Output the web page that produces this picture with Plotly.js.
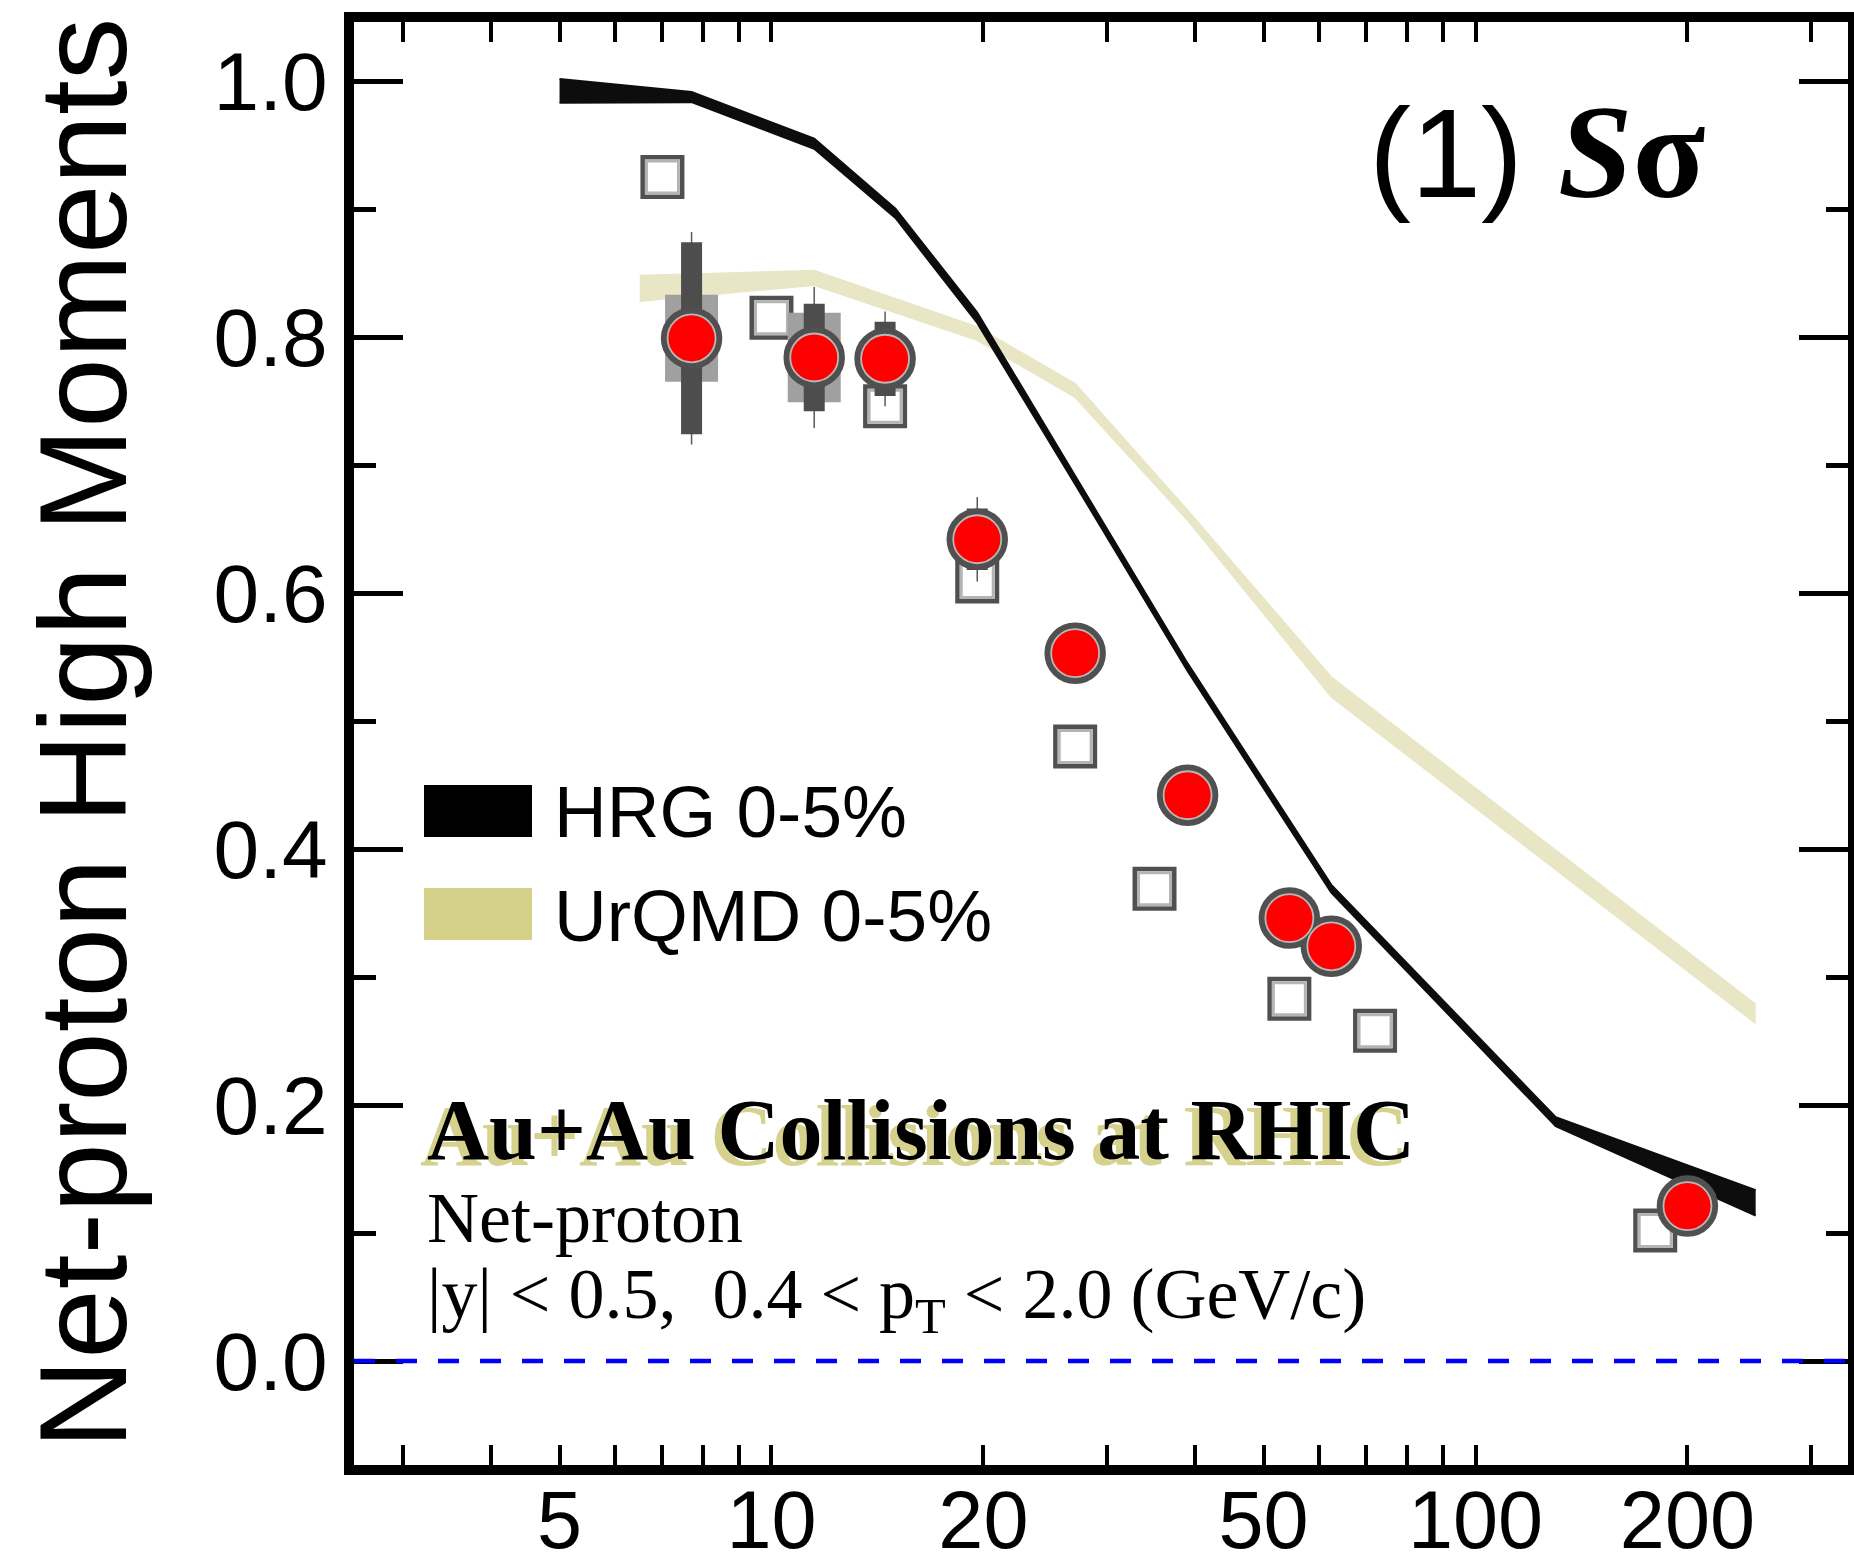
<!DOCTYPE html>
<html>
<head>
<meta charset="utf-8">
<script src="https://cdn.plot.ly/plotly-3.0.1.min.js"></script>
<style>
  html, body { margin: 0; padding: 0; background: #ffffff; }
  #chart { width: 1854px; height: 1565px; }
</style>
</head>
<body>
<div id="chart"></div>
<script>
// Collision energies (GeV) and measured S*sigma for net-protons, 0-5% central Au+Au
const starEnergy = [7.7, 11.5, 14.5, 19.6, 27, 39, 54.4, 62.4, 200];
const starSSigma = [0.799, 0.784, 0.783, 0.642, 0.553, 0.442, 0.346, 0.324, 0.121];
const starStatErr = [0.075, 0.042, 0.029, 0.024, 0.010, 0.008, 0.006, 0.006, 0.003];
const starTotErr = [0.083, 0.055, 0.037, 0.033, 0.014, 0.011, 0.009, 0.009, 0.004];
const starSysErr = [0.034, 0.035, 0.010, 0.010, 0.008, 0.006, 0.005, 0.005, 0.003];

// Open-square points
const sqEnergy = [7.0, 10.0, 14.5, 19.6, 27, 35, 54.4, 72, 180];
const sqSSigma = [0.925, 0.815, 0.746, 0.609, 0.480, 0.369, 0.283, 0.258, 0.102];

// HRG 0-5% band (upper / lower edges)
const hrgEnergy = [5, 7.7, 11.5, 15, 19.6, 27, 39, 62.4, 130, 250];
const hrgUpper = [1.0015, 0.9915, 0.955, 0.9003, 0.819, 0.691, 0.545, 0.372, 0.1905, 0.1335];
const hrgLower = [0.983, 0.9835, 0.947, 0.893, 0.811, 0.685, 0.539, 0.366, 0.1835, 0.1137];

// UrQMD 0-5% band (upper / lower edges)
const urqmdEnergy = [6.5, 11.5, 19.6, 27, 39, 62.4, 250];
const urqmdUpper = [0.848, 0.852, 0.8078, 0.7637, 0.6646, 0.5344, 0.2787];
const urqmdLower = [0.828, 0.8404, 0.7974, 0.7528, 0.6568, 0.5188, 0.2637];

// Axis ticks
const xLabelVals = [5, 10, 20, 50, 100, 200];
const xLabelText = ['5', '10', '20', '50', '100', '200'];
const xMinorVals = [3, 4, 6, 7, 8, 9, 30, 40, 60, 70, 80, 90, 300];
const xLongVals = [10, 100];
const yMajorVals = [0, 0.2, 0.4, 0.6, 0.8, 1.0];
const yMinorVals = [0.1, 0.3, 0.5, 0.7, 0.9];

const SANS = 'Liberation Sans, Arial, Helvetica, sans-serif';
const SERIF = 'Liberation Serif, Times New Roman, Times, serif';

// Plot-area geometry in page pixels, used to place texts and legend swatches
const W = 1854, H = 1565;
const PL = 354, PR = 1848, PT = 22, PB = 1465;
const fx = px => (px - PL) / (PR - PL);
const fy = py => (PB - py) / (PB - PT);

const xRange = [0.4070, 2.5291];
const yRange = [-0.08125, 1.0461];

const traces = [];

// UrQMD band
traces.push({x: urqmdEnergy, y: urqmdLower, mode: 'lines', line: {color: '#e8e6c4', width: 1.5}, hoverinfo: 'skip'});
traces.push({x: urqmdEnergy, y: urqmdUpper, mode: 'lines', fill: 'tonexty', fillcolor: '#e8e6c4', line: {color: '#e8e6c4', width: 1.5}, hoverinfo: 'skip'});

// HRG band
traces.push({x: hrgEnergy, y: hrgLower, mode: 'lines', line: {color: '#0d0d0d', width: 2}, hoverinfo: 'skip'});
traces.push({x: hrgEnergy, y: hrgUpper, mode: 'lines', fill: 'tonexty', fillcolor: '#0d0d0d', line: {color: '#0d0d0d', width: 2}, hoverinfo: 'skip'});

// Open squares (two layers give the dark border with a light inner rim)
traces.push({x: sqEnergy, y: sqSSigma, mode: 'markers', marker: {symbol: 'square', size: 39.5, color: '#ffffff', line: {color: '#505050', width: 4.5}}, hoverinfo: 'skip'});
traces.push({x: sqEnergy, y: sqSSigma, mode: 'markers', marker: {symbol: 'square', size: 32, color: '#ffffff', line: {color: '#b4b4b4', width: 3}}, hoverinfo: 'skip'});

// Systematic boxes, total error lines and statistical bars
const hidden = {size: 1, color: 'rgba(0,0,0,0)'};
traces.push({x: starEnergy, y: starSSigma, mode: 'markers', marker: hidden, hoverinfo: 'skip',
  error_y: {type: 'data', array: starSysErr, color: '#a0a0a0', thickness: 53, width: 0}});
traces.push({x: starEnergy, y: starSSigma, mode: 'markers', marker: hidden, hoverinfo: 'skip',
  error_y: {type: 'data', array: starTotErr, color: '#5a5a5a', thickness: 1.5, width: 0}});
traces.push({x: starEnergy, y: starSSigma, mode: 'markers', marker: hidden, hoverinfo: 'skip',
  error_y: {type: 'data', array: starStatErr, color: '#4d4d4d', thickness: 21, width: 0}});

// Red circles with a dark outline and a light inner rim
traces.push({x: starEnergy, y: starSSigma, mode: 'markers', marker: {symbol: 'circle', size: 55, color: '#ff0000', line: {color: '#505050', width: 6.5}}, hoverinfo: 'skip'});
traces.push({x: starEnergy, y: starSSigma, mode: 'markers', marker: {symbol: 'circle', size: 48, color: '#ff0000', line: {color: '#b8b8b8', width: 1.8}}, hoverinfo: 'skip'});

function txt(text, left, top, size, family, color, extra) {
  return Object.assign({
    text: text, xref: 'paper', yref: 'paper', x: fx(left), y: fy(top),
    xanchor: 'left', yanchor: 'top', showarrow: false, align: 'left',
    font: {family: family, size: size, color: color || '#000000'}
  }, extra || {});
}

const annotations = [
  // vertical axis title
  {text: 'Net-proton High Moments', xref: 'paper', yref: 'paper', x: fx(82), y: fy(734),
   xanchor: 'center', yanchor: 'middle', textangle: -90, showarrow: false,
   font: {family: SANS, size: 125, color: '#000000'}},
  // panel label
  txt('(1) <span style="font-family:Liberation Serif;font-size:134px"><b><i>S</i>σ</b></span>', 1367, 76, 126, SANS),
  // legend entries
  txt('HRG 0-5%', 552, 769, 73, SANS),
  txt('UrQMD 0-5%', 552, 873, 73, SANS),
  // collision system with its shadow
  txt('<b>Au+Au Collisions at RHIC</b>', 418, 1086, 86, SERIF, '#d6d28e'),
  txt('<b>Au+Au Collisions at RHIC</b>', 425, 1080, 86, SERIF),
  txt('Net-proton', 425, 1176, 72, SERIF),
  txt('|y| &lt; 0.5,\u00a0\u00a00.4 &lt; p<sub>T</sub> &lt; 2.0 (GeV/c)', 425, 1252, 72, SERIF)
];

const shapes = [
  // zero reference line
  {type: 'line', xref: 'paper', yref: 'y', x0: 0, x1: 1, y0: 0, y1: 0, layer: 'above',
   line: {color: '#0000ff', width: 4.5, dash: '21px,21px'}},
  // legend swatches
  {type: 'rect', xref: 'paper', yref: 'paper', x0: fx(424), x1: fx(532), y0: fy(837), y1: fy(785),
   fillcolor: '#000000', line: {width: 0}, layer: 'above'},
  {type: 'rect', xref: 'paper', yref: 'paper', x0: fx(424), x1: fx(532), y0: fy(940), y1: fy(888),
   fillcolor: '#d4d08a', line: {width: 0}, layer: 'above'}
];

const layout = {
  width: W, height: H,
  margin: {l: PL, r: W - PR, t: PT, b: H - PB, pad: 0},
  paper_bgcolor: '#ffffff', plot_bgcolor: '#ffffff',
  showlegend: false,
  xaxis: {
    type: 'log', range: xRange, showline: true, linewidth: 10, linecolor: '#000000', mirror: 'ticks',
    ticks: 'inside', ticklen: 20, tickwidth: 4, tickcolor: '#000000',
    tickmode: 'array', tickvals: xLabelVals, ticktext: xLabelText, ticklabelstandoff: -24,
    tickfont: {family: SANS, size: 81, color: '#000000'},
    showgrid: false, zeroline: false, fixedrange: true,
    minor: {tickmode: 'array', tickvals: xMinorVals, ticks: 'inside', ticklen: 20, tickwidth: 4, tickcolor: '#000000', showgrid: false}
  },
  xaxis2: {
    type: 'log', range: xRange, overlaying: 'x', side: 'bottom', anchor: 'y',
    showline: true, linewidth: 10, linecolor: '#000000', mirror: 'ticks',
    ticks: 'inside', ticklen: 45, tickwidth: 4, tickcolor: '#000000',
    tickmode: 'array', tickvals: xLongVals, showticklabels: false,
    showgrid: false, zeroline: false, fixedrange: true
  },
  yaxis: {
    range: yRange, showline: true, linewidth: 10, linecolor: '#000000', mirror: 'ticks',
    ticks: 'inside', ticklen: 49, tickwidth: 5, tickcolor: '#000000',
    tickmode: 'array', tickvals: yMajorVals, tickformat: '.1f',
    tickfont: {family: SANS, size: 82, color: '#000000'},
    showgrid: false, zeroline: false, fixedrange: true,
    minor: {tickmode: 'array', tickvals: yMinorVals, ticks: 'inside', ticklen: 22, tickwidth: 5, tickcolor: '#000000', showgrid: false}
  },
  annotations: annotations,
  shapes: shapes
};

Plotly.newPlot('chart', traces, layout, {staticPlot: true, displayModeBar: false});
</script>
</body>
</html>
